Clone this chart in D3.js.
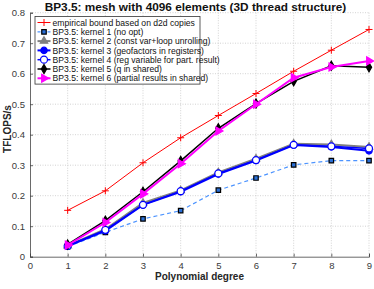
<!DOCTYPE html>
<html>
<head>
<meta charset="utf-8">
<script src="https://cdn.jsdelivr.net/npm/d3@7"></script>
<style>
  body { margin: 0; background: #fff; }
  svg { display: block; font-family: "Liberation Sans", Arial, sans-serif; }
</style>
</head>
<body>
<div id="chart"></div>
<script>
'use strict';

const degrees = [1, 2, 3, 4, 5, 6, 7, 8, 9];
const boundD2D = [0.152, 0.216, 0.308, 0.390, 0.463, 0.535, 0.608, 0.677, 0.745];
const kernel1 = [0.033, 0.080, 0.124, 0.151, 0.218, 0.258, 0.301, 0.315, 0.315];
const kernel2 = [0.036, 0.090, 0.176, 0.217, 0.276, 0.321, 0.370, 0.368, 0.360];
const kernel3 = [0.035, 0.085, 0.170, 0.213, 0.271, 0.315, 0.366, 0.360, 0.347];
const kernel4 = [0.035, 0.088, 0.170, 0.215, 0.273, 0.317, 0.367, 0.362, 0.355];
const kernel5 = [0.040, 0.118, 0.213, 0.314, 0.421, 0.502, 0.575, 0.626, 0.621];
const kernel6 = [0.038, 0.112, 0.206, 0.305, 0.412, 0.500, 0.587, 0.622, 0.642];
const xTicks = [0, 1, 2, 3, 4, 5, 6, 7, 8, 9];
const yTicks = [0, 0.1, 0.2, 0.3, 0.4, 0.5, 0.6, 0.7, 0.8];

const series = [
    {name: 'empirical bound based on d2d copies', values: boundD2D, color: '#ff0000', width: 1, marker: 'plus'},
    {name: 'BP3.5: kernel 1 (no opt)', values: kernel1, color: '#4d94ff', width: 1.2, dash: '4,3', marker: 'square'},
    {name: 'BP3.5: kernel 2 (const var+loop unrolling)', values: kernel2, color: '#808080', width: 2, marker: 'triangle'},
    {name: 'BP3.5: kernel 3 (geofactors in registers)', values: kernel3, color: '#0000ff', width: 2, marker: 'dot'},
    {name: 'BP3.5: kernel 4 (reg variable for part. result)', values: kernel4, color: '#0000ff', width: 1.5, marker: 'circle'},
    {name: 'BP3.5: kernel 5 (q in shared)', values: kernel5, color: '#000000', width: 1.5, marker: 'diamond'},
    {name: 'BP3.5: kernel 6 (partial results in shared)', values: kernel6, color: '#ff00ff', width: 2, marker: 'right'}
];

const width = 374, height = 289;
const mLeft = 30, mRight = 369, mTop = 12.7, mBottom = 256.7;

const svg = d3.select('#chart').append('svg')
    .attr('width', width)
    .attr('height', height);

const x = d3.scaleLinear().domain([0, 9]).range([mLeft, mRight]);
const y = d3.scaleLinear().domain([0, 0.8]).range([mBottom, mTop]);

// grid
const grid = svg.append('g');
grid.selectAll('line.vx')
    .data(xTicks.slice(1))
    .enter().append('line')
    .attr('x1', d => x(d)).attr('x2', d => x(d))
    .attr('y1', mTop).attr('y2', mBottom)
    .attr('stroke', '#c8c8c8').attr('stroke-width', 0.8)
    .attr('stroke-dasharray', '1,1.5');
grid.selectAll('line.hy')
    .data(yTicks.slice(1))
    .enter().append('line')
    .attr('x1', mLeft).attr('x2', mRight)
    .attr('y1', d => y(d)).attr('y2', d => y(d))
    .attr('stroke', '#c8c8c8').attr('stroke-width', 0.8)
    .attr('stroke-dasharray', '1,1.5');

// axes
const xAxis = svg.append('g')
    .attr('transform', `translate(0,${mBottom})`)
    .call(d3.axisBottom(x).tickValues(xTicks).tickSize(-3).tickPadding(6).tickFormat(d3.format('d')));
const yAxis = svg.append('g')
    .attr('transform', `translate(${mLeft},0)`)
    .call(d3.axisLeft(y).tickValues(yTicks).tickSize(-3).tickPadding(5).tickFormat(d => d === 0 ? '0' : d3.format('.1f')(d)));
[xAxis, yAxis].forEach(a => {
    a.select('.domain').attr('stroke', '#444').attr('stroke-width', 0.8);
    a.selectAll('.tick line').attr('stroke', '#444').attr('stroke-width', 0.8);
    a.selectAll('.tick text')
        .attr('fill', '#3a3a3a')
        .style('font-size', '9.5px')
        .style('font-family', '"Liberation Sans", Arial, sans-serif');
});

// series
const symbols = {
    plus: d3.symbolCross,
    square: d3.symbolSquare,
    triangle: d3.symbolTriangle,
    dot: d3.symbolCircle,
    circle: d3.symbolCircle,
    diamond: d3.symbolDiamond,
    right: d3.symbolTriangle
};

function drawMarker(g, s, cx, cy) {
    if (s.marker === 'plus') {
        g.append('path')
            .attr('d', `M${cx - 3.5},${cy}H${cx + 3.5}M${cx},${cy - 3.5}V${cy + 3.5}`)
            .attr('stroke', s.color).attr('stroke-width', 1).attr('fill', 'none');
        return;
    }
    let size = 24, fill = s.color, stroke = s.color, rot = 0;
    if (s.marker === 'square') { size = 20; fill = '#2a6fd6'; stroke = '#000'; }
    if (s.marker === 'circle') { size = 38; fill = '#fff'; }
    if (s.marker === 'dot') { size = 32; }
    if (s.marker === 'diamond') { size = 24; }
    if (s.marker === 'triangle') { size = 24; }
    if (s.marker === 'right') { size = 28; rot = 90; }
    g.append('path')
        .attr('d', d3.symbol().type(symbols[s.marker]).size(size)())
        .attr('transform', `translate(${cx},${cy}) rotate(${rot})`)
        .attr('fill', fill).attr('stroke', stroke).attr('stroke-width', 1.2);
}

const line = d3.line()
    .x((d, i) => x(degrees[i]))
    .y(d => y(d));

series.forEach(s => {
    const g = svg.append('g');
    g.append('path')
        .attr('d', line(s.values))
        .attr('fill', 'none')
        .attr('stroke', s.color)
        .attr('stroke-width', s.width)
        .attr('stroke-dasharray', s.dash || null);
    s.values.forEach((v, i) => drawMarker(g, s, x(degrees[i]), y(v)));
});

// legend
const legend = svg.append('g');
const lx = 35, ly = 16.5, lw = 165, rowH = 9.3;
legend.append('rect')
    .attr('x', lx).attr('y', ly)
    .attr('width', lw).attr('height', rowH * series.length + 2.5)
    .attr('fill', '#fff').attr('stroke', '#333').attr('stroke-width', 0.8);
series.forEach((s, i) => {
    const cy = ly + 6 + i * rowH;
    const g = legend.append('g');
    g.append('line')
        .attr('x1', lx + 2.5).attr('x2', lx + 15.5)
        .attr('y1', cy).attr('y2', cy)
        .attr('stroke', s.color)
        .attr('stroke-width', s.width)
        .attr('stroke-dasharray', s.dash ? '3,2' : null);
    drawMarker(g, s, lx + 9, cy);
    g.append('text')
        .attr('x', lx + 17.5).attr('y', cy + 3.1)
        .attr('fill', '#111')
        .style('font-size', '8.6px')
        .text(s.name);
});

// titles
svg.append('text')
    .attr('x', (mLeft + mRight) / 2 - 4).attr('y', 11)
    .attr('text-anchor', 'middle')
    .style('font-size', '11.8px').style('font-weight', 'bold')
    .attr('fill', '#111')
    .text('BP3.5: mesh with 4096 elements (3D thread structure)');
svg.append('text')
    .attr('x', (mLeft + mRight) / 2).attr('y', 280)
    .attr('text-anchor', 'middle')
    .style('font-size', '10px').style('font-weight', 'bold')
    .attr('fill', '#262626')
    .text('Polynomial degree');
svg.append('text')
    .attr('transform', 'translate(11,129) rotate(-90)')
    .attr('text-anchor', 'middle')
    .style('font-size', '10px').style('font-weight', 'bold')
    .attr('fill', '#262626')
    .text('TFLOPS/s');
</script>
</body>
</html>
